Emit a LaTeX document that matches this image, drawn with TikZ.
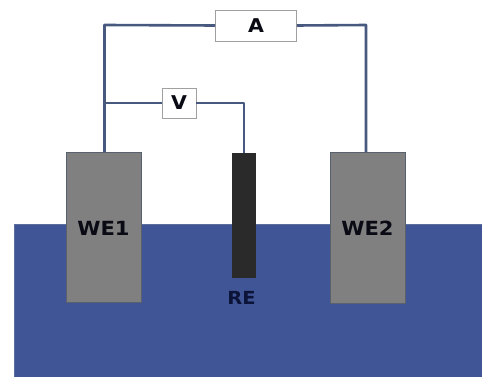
\documentclass[tikz,border=0pt]{standalone}
\usepackage{fontspec}
\setmainfont[FakeStretch=1.08]{DejaVu Sans}
\definecolor{wat}{HTML}{3F5595}
\definecolor{watedge}{HTML}{5B6E9C}
\definecolor{wire}{HTML}{47597F}
\definecolor{gr}{HTML}{808080}
\definecolor{re}{HTML}{2A2A2A}
\definecolor{edge}{HTML}{59606E}
\definecolor{medge}{HTML}{A0A0A0}
\definecolor{lab}{HTML}{0A0A14}
\definecolor{relabc}{HTML}{0B1438}
\tikzset{x=1pt,y=-1pt,
 el/.style={draw=edge,line width=0.8pt,fill=gr,minimum width=75pt,minimum height=150pt,inner sep=0pt},
 eltext/.style={inner sep=0pt,font=\bfseries\fontsize{19.5}{19.5}\selectfont,text=lab},
 meter/.style={draw=medge,line width=0.9pt,fill=white,inner sep=0pt,font=\bfseries\fontsize{19}{19}\selectfont,text=lab},
 wirel/.style={draw=wire,line width=2.6pt,line join=round}}
\begin{document}
\begin{tikzpicture}
\useasboundingbox (0,0) rectangle (482,377);
\fill[white] (0,0) rectangle (482,377);
\filldraw[fill=wat,draw=watedge,line width=0.6pt] (14.5,224) rectangle (483,378);
\node[el] (we1) at (103.5,227.5) {};
\node[el,minimum height=151pt] (we2) at (367.5,228) {};
\node[eltext] (we1lab) at (103.5,228.5) {WE1};
\node[eltext] (we2lab) at (367.5,228.5) {WE2};
\node[fill=re,draw=none,minimum width=24pt,minimum height=125pt,inner sep=0pt] (ref) at (244,215.5) {};
\node[inner sep=0pt,font=\bfseries\fontsize{18}{18}\selectfont,text=relabc] (relab) at (241.5,298) {RE};
\node[meter,minimum width=81pt,minimum height=31pt] (A) at (256,25.5) {A};
\node[meter,minimum width=34pt,minimum height=30pt] (V) at (179,103) {V};
\coordinate (c1) at (104.5,25);
\coordinate (c2) at (366,25);
\coordinate (c3) at (104.5,103);
\coordinate (c4) at (244,103);
\draw[wirel] (we1.north -| c1) -- (c1) -- (A.west);
\draw[wirel] (A.east) -- (c2) -- (we2.north -| c2);
\draw[wirel] (c3) -- (V.west);
\draw[wirel] (V.east) -- (c4) -- (ref.north);
\end{tikzpicture}
\end{document}
